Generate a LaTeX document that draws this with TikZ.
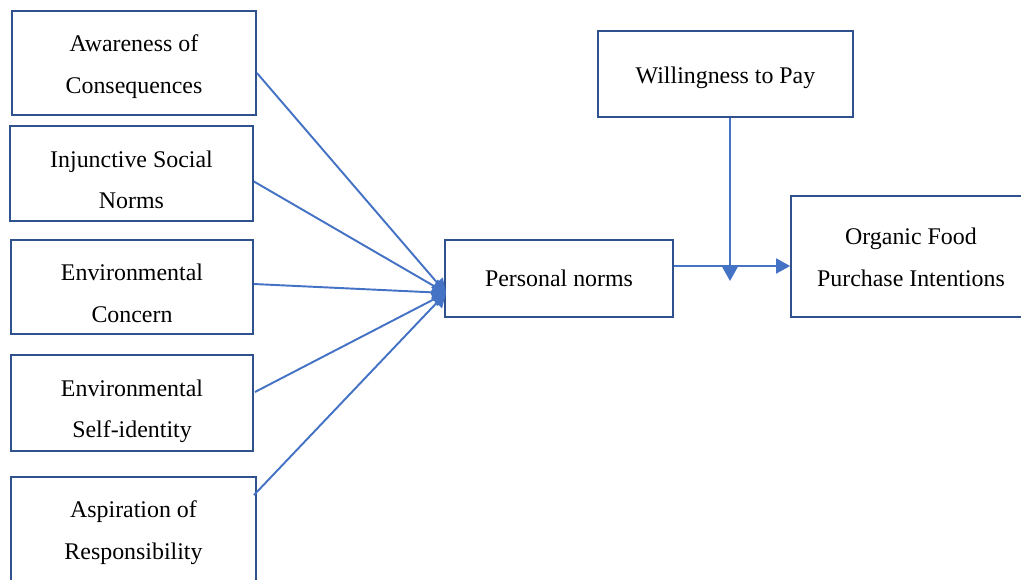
\documentclass[tikz,border=0pt]{standalone}
\usepackage{fontspec}
\setmainfont{Liberation Serif}
\usetikzlibrary{arrows.meta,calc}

\definecolor{boxblue}{RGB}{47,82,143}
\definecolor{lineblue}{RGB}{68,114,196}

\begin{document}
\begin{tikzpicture}[
      x=0.02cm, y=-0.02cm,
      font=\fontsize{13.6}{23.8}\selectfont,
      box/.style={draw=boxblue, line width=1.1pt, fill=white, align=center, inner sep=0pt},
      arrow/.style={-{Triangle[length=7.9pt, width=8.5pt]}, line width=1.1pt, draw=lineblue}
    ]
      \useasboundingbox (0,0) rectangle (1021,579);

      % antecedents
      \node[box, minimum width=4.88cm, minimum height=2.08cm, text height=37.6pt] (aoc) at (134,63) {Awareness of\\Consequences};
      \node[box, minimum width=4.86cm, minimum height=1.90cm, text height=40.5pt] (isn) at (131.5,173.5) {Injunctive Social\\Norms};
      \node[box, minimum width=4.84cm, minimum height=1.88cm, text height=40.5pt] (ec) at (132,287) {Environmental\\Concern};
      \node[box, minimum width=4.84cm, minimum height=1.92cm, text height=42.7pt] (esi) at (132,403) {Environmental\\Self-identity};
      \node[box, minimum width=4.90cm, minimum height=2.14cm, text height=35.9pt] (aor) at (133.5,530.5) {Aspiration of\\Responsibility};

      % mediator, moderator, outcome
      \node[box, minimum width=4.56cm, minimum height=1.54cm] (pn) at (559,278.5) {Personal norms};
      \node[box, minimum width=5.10cm, minimum height=1.72cm, text height=13.9pt] (wtp) at (725.5,74) {Willingness to Pay};
      \node[box, minimum width=4.80cm, minimum height=2.42cm, text height=34.2pt] (ofpi) at (911,256.5) {Organic Food\\Purchase Intentions};

      \coordinate (hub) at (446,293);
      \draw[arrow] ($(aoc.east)+(0,10)$) -- (hub);
      \draw[arrow] ($(isn.east)+(0,8)$) -- (hub);
      \draw[arrow] ($(ec.east)+(0,-3)$) -- (hub);
      \draw[arrow] ($(esi.east)+(1,-11)$) -- (hub);
      \draw[arrow] ($(aor.north east)+(-3,19)$) -- (hub);

      \draw[arrow] ($(pn.east)+(0,-12.5)$) coordinate (pnout) -- (pnout -| ofpi.west);
      \coordinate (drop) at (730,281);
      \draw[arrow] (wtp.south -| drop) -- (drop);
    \end{tikzpicture}
\end{document}
